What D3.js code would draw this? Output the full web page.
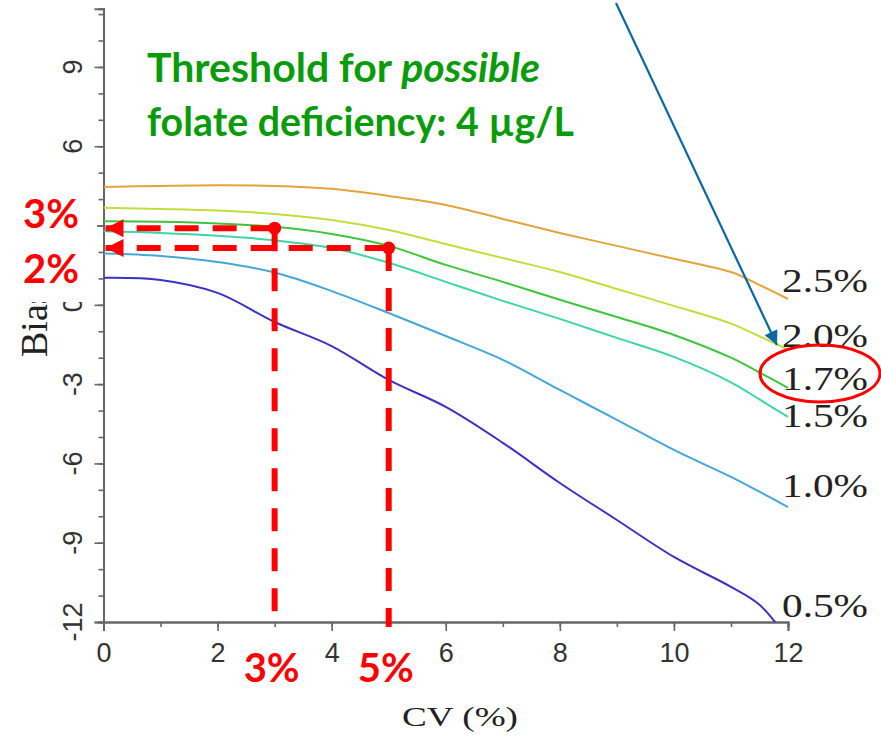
<!DOCTYPE html>
<html>
<head>
<meta charset="utf-8">
<script src="https://cdn.jsdelivr.net/npm/d3@7"></script>
<style>
  body { margin: 0; background: #fff; }
  svg { display: block; }
</style>
</head>
<body>
<svg id="chart" width="881" height="736"></svg>
<script>
// CV (%) sampled along the x axis
const cvValues = [0, 1, 2, 3, 4, 5, 6, 7, 8, 9, 10, 11, 11.5, 12];

// bias (%) per curve
const seriesNames = ['2.5%', '2.0%', '1.7%', '1.5%', '1.0%', '0.5%'];
const bias25 = [4.46, 4.50, 4.52, 4.50, 4.39, 4.12, 3.78, 3.25, 2.72, 2.23, 1.74, 1.24, 0.75, 0.22];
const bias20 = [3.67, 3.63, 3.57, 3.44, 3.21, 2.83, 2.30, 1.77, 1.24, 0.60, -0.04, -0.71, -1.19, -1.70];
const bias17 = [3.16, 3.14, 3.08, 2.95, 2.68, 2.23, 1.51, 0.87, 0.19, -0.46, -1.14, -2.00, -2.56, -3.14];
const bias15 = [2.78, 2.72, 2.61, 2.44, 2.15, 1.59, 0.87, 0.15, -0.53, -1.25, -1.97, -2.93, -3.58, -4.24];
const bias10 = [1.94, 1.85, 1.62, 1.22, 0.52, -0.31, -1.18, -2.08, -3.22, -4.35, -5.49, -6.51, -7.07, -7.65];
const bias05 = [1.02, 0.94, 0.45, -0.65, -1.56, -2.84, -3.86, -5.22, -6.74, -8.14, -9.54, -10.67, -11.35, -12.65];

const xTicks = [0, 2, 4, 6, 8, 10, 12];
const yTicks = [-12, -9, -6, -3, 0, 3, 6, 9];

// red read-off points (CV, bias)
const readCV = [3, 5];
const readBias = [2.9, 2.15];
const readBiasLabels = ['3%', '2%'];
const readCVLabels = ['3%', '5%'];

const seriesColors = ['#e2a53a', '#c4dc3c', '#3cc63c', '#3ed6a4', '#44a8d6', '#3a33c2'];
const labelDy = [-7, -3, 2, 10, -10, -5];

const svg = d3.select('#chart');
const x = d3.scaleLinear().domain([0, 12]).range([103.5, 788]);
const y = d3.scaleLinear().domain([-12, 11.2]).range([622, 8.8]);

const axisColor = '#666';
const tickFont = '"Liberation Sans", Arial, sans-serif';
const serif = '"Liberation Serif", "Times New Roman", serif';
const boldSans = 'Lato, "Open Sans", sans-serif';

// x axis
const gx = svg.append('g').attr('transform', `translate(0,${y(-12)})`);
gx.append('g').call(d3.axisBottom(x).tickValues(d3.range(0, 13)).tickSize(5).tickFormat(''));
gx.append('g').call(d3.axisBottom(x).tickValues(xTicks).tickSize(9).tickPadding(12).tickFormat(d3.format('d')));
gx.selectAll('text')
  .attr('font-family', tickFont)
  .attr('font-size', 27)
  .attr('fill', '#333');

// y axis
const gy = svg.append('g').attr('transform', `translate(${x(0)},0)`);
gy.append('g').call(d3.axisLeft(y).tickValues(d3.range(-12, 12)).tickSize(5).tickFormat(''));
gy.append('g').call(d3.axisLeft(y).tickValues(yTicks).tickSize(9).tickFormat(''));

svg.selectAll('.domain').attr('stroke', axisColor).attr('stroke-width', 2);
svg.selectAll('.tick line').attr('stroke', axisColor).attr('stroke-width', 1.6);

svg.append('g')
  .selectAll('text')
  .data(yTicks)
  .join('text')
  .attr('transform', d => `translate(72,${y(d)}) rotate(-90)`)
  .attr('text-anchor', 'middle')
  .attr('dy', '0.36em')
  .attr('font-family', tickFont)
  .attr('font-size', 27)
  .attr('fill', '#333')
  .text(d => d);

// axis titles
svg.append('text')
  .attr('x', 402)
  .attr('y', 726)
  .attr('font-family', serif)
  .attr('font-size', 28)
  .attr('fill', '#222')
  .attr('textLength', 116)
  .attr('lengthAdjust', 'spacingAndGlyphs')
  .text('CV (%)');

svg.append('text')
  .attr('transform', 'translate(47,357) rotate(-90)')
  .attr('font-family', serif)
  .attr('font-size', 38)
  .attr('fill', '#222')
  .text('Bias (%)');

// curves
const series = [bias25, bias20, bias17, bias15, bias10, bias05].map((values, i) => ({
  name: seriesNames[i],
  color: seriesColors[i],
  values,
}));

svg.append('clipPath').attr('id', 'plot-clip')
  .append('rect')
  .attr('x', x(0))
  .attr('y', 0)
  .attr('width', x(12) - x(0) + 4)
  .attr('height', y(-12));

const line = d3.line()
  .x((d, i) => x(cvValues[i]))
  .y(d => y(d))
  .curve(d3.curveCatmullRom.alpha(0.5));

svg.append('g')
  .attr('clip-path', 'url(#plot-clip)')
  .selectAll('path')
  .data(series)
  .join('path')
  .attr('d', d => line(d.values))
  .attr('fill', 'none')
  .attr('stroke', d => d.color)
  .attr('stroke-width', 2);

svg.append('g')
  .selectAll('text')
  .data(series)
  .join('text')
  .attr('x', x(12) - 6)
  .attr('y', (d, i) => Math.min(y(d.values[d.values.length - 1]), y(-12)) + labelDy[i])
  .attr('font-family', serif)
  .attr('font-size', 33)
  .attr('fill', '#222')
  .attr('textLength', 86)
  .attr('lengthAdjust', 'spacingAndGlyphs')
  .text(d => d.name);

// green threshold note
const green = '#0a9b0a';
const note = svg.append('text')
  .attr('x', 147)
  .attr('y', 82)
  .attr('font-family', boldSans)
  .attr('font-weight', 700)
  .attr('font-size', 40)
  .attr('fill', green)
  .attr('textLength', 393)
  .attr('lengthAdjust', 'spacingAndGlyphs');
note.append('tspan').text('Threshold for ');
note.append('tspan').attr('font-style', 'italic').text('possible');

svg.append('text')
  .attr('x', 147)
  .attr('y', 136)
  .attr('font-family', boldSans)
  .attr('font-weight', 700)
  .attr('font-size', 40)
  .attr('fill', green)
  .attr('textLength', 427)
  .attr('lengthAdjust', 'spacingAndGlyphs')
  .text('folate deficiency: 4 µg/L');

// arrow heads
const defs = svg.append('defs');
defs.append('marker')
  .attr('id', 'blue-head')
  .attr('viewBox', '0 0 10 10')
  .attr('refX', 10)
  .attr('refY', 5)
  .attr('markerUnits', 'userSpaceOnUse')
  .attr('markerWidth', 18)
  .attr('markerHeight', 14)
  .attr('orient', 'auto')
  .append('path')
  .attr('d', 'M0,0L10,5L0,10Z')
  .attr('fill', '#0b68a0');

defs.append('marker')
  .attr('id', 'red-head')
  .attr('viewBox', '0 0 10 10')
  .attr('refX', 10)
  .attr('refY', 5)
  .attr('markerUnits', 'userSpaceOnUse')
  .attr('markerWidth', 18)
  .attr('markerHeight', 20)
  .attr('orient', 'auto')
  .append('path')
  .attr('d', 'M0,0L10,5L0,10Z')
  .attr('fill', '#ff0000');

// blue pointer to the 1.7% curve
svg.append('line')
  .attr('x1', 616)
  .attr('y1', 3)
  .attr('x2', 777)
  .attr('y2', 345)
  .attr('stroke', '#0b68a0')
  .attr('stroke-width', 2.2)
  .attr('marker-end', 'url(#blue-head)');

// red ellipse around 1.7%
svg.append('ellipse')
  .attr('cx', 820)
  .attr('cy', 373.5)
  .attr('rx', 60)
  .attr('ry', 28.5)
  .attr('fill', 'none')
  .attr('stroke', '#ff0000')
  .attr('stroke-width', 3);

// white patch behind the red bias labels
svg.append('rect')
  .attr('x', 0)
  .attr('y', 182)
  .attr('width', 97)
  .attr('height', 120)
  .attr('fill', '#fff');

// red read-off guides
const red = '#ff0000';
const reads = readCV.map((cv, i) => ({ cv, bias: readBias[i], biasLabel: readBiasLabels[i], cvLabel: readCVLabels[i] }));
const gr = svg.append('g');

gr.selectAll('.hguide')
  .data(reads)
  .join('line')
  .attr('class', 'hguide')
  .attr('x1', d => x(d.cv))
  .attr('y1', d => y(d.bias))
  .attr('x2', x(0) + 2)
  .attr('y2', d => y(d.bias))
  .attr('stroke', red)
  .attr('stroke-width', 6)
  .attr('stroke-dasharray', '24,14')
  .attr('marker-end', 'url(#red-head)');

gr.selectAll('.vguide')
  .data(reads)
  .join('line')
  .attr('class', 'vguide')
  .attr('x1', d => x(d.cv))
  .attr('y1', d => y(d.bias))
  .attr('x2', d => x(d.cv))
  .attr('y2', y(-12) + 5)
  .attr('stroke', red)
  .attr('stroke-width', 6)
  .attr('stroke-dasharray', '23,17');

gr.selectAll('circle')
  .data(reads)
  .join('circle')
  .attr('cx', d => x(d.cv))
  .attr('cy', d => y(d.bias))
  .attr('r', 6.5)
  .attr('fill', red);

gr.selectAll('.blabel')
  .data(reads)
  .join('text')
  .attr('class', 'blabel')
  .attr('x', 23)
  .attr('y', (d, i) => [228, 283][i])
  .attr('font-family', boldSans)
  .attr('font-weight', 700)
  .attr('font-size', 40)
  .attr('fill', red)
  .text(d => d.biasLabel);

gr.selectAll('.cvlabel')
  .data(reads)
  .join('text')
  .attr('class', 'cvlabel')
  .attr('x', d => x(d.cv) - 3)
  .attr('y', 682)
  .attr('text-anchor', 'middle')
  .attr('font-family', boldSans)
  .attr('font-weight', 700)
  .attr('font-size', 40)
  .attr('fill', red)
  .text(d => d.cvLabel);
</script>
</body>
</html>
